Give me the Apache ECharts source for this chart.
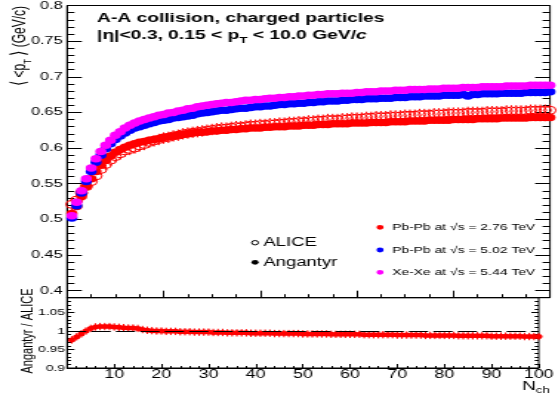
<!DOCTYPE html>
<html>
<head>
<meta charset="utf-8">
<script src="https://cdn.jsdelivr.net/npm/echarts@6.0.0/dist/echarts.min.js"></script>
<style>
  html, body { margin: 0; padding: 0; background: #fff; overflow: hidden; }
  /* the canvas is drawn narrow and widened horizontally */
  #chart { width: 377px; height: 398px; transform: scaleX(1.48); transform-origin: 0 0; }
</style>
</head>
<body>
<div id="chart"></div>
<script>
// ---- data: mean transverse momentum vs. charged multiplicity ----
const nch = [1,2,3,4,5,6,7,8,9,10,11,12,13,14,15,16,17,18,19,20,
  21,22,23,24,25,26,27,28,29,30,31,32,33,34,35,36,37,38,39,40,
  41,42,43,44,45,46,47,48,49,50,51,52,53,54,55,56,57,58,59,60,
  61,62,63,64,65,66,67,68,69,70,71,72,73,74,75,76,77,78,79,80,
  81,82,83,84,85,86,87,88,89,90,91,92,93,94,95,96,97,98,99,100];

// ALICE, Pb-Pb 2.76 TeV (open markers)
const alicePbPb276 = [
  .521,.527,.537,.546,.553,.561,.570,.577,.583,.588,
  .592,.596,.598,.600,.603,.605,.608,.610,.612,.614,
  .615,.617,.618,.620,.621,.622,.623,.624,.625,.626,
  .627,.628,.628,.629,.630,.630,.631,.632,.632,.633,
  .633,.634,.634,.635,.635,.636,.636,.637,.637,.638,
  .638,.639,.639,.640,.640,.640,.641,.641,.642,.642,
  .642,.643,.643,.644,.644,.644,.645,.645,.645,.646,
  .646,.646,.647,.647,.647,.648,.648,.648,.649,.649,
  .649,.649,.650,.650,.650,.650,.651,.651,.651,.651,
  .652,.652,.652,.652,.652,.653,.653,.653,.653,.653];
const aliceErr = 0.008;

// Angantyr, Pb-Pb 2.76 TeV
const angPbPb276 = [
  .508,.518,.532,.546,.557,.567,.576,.583,.589,.594,
  .598,.601,.604,.606,.608,.609,.611,.612,.613,.615,
  .616,.617,.618,.619,.620,.621,.622,.622,.623,.624,
  .624,.625,.625,.626,.626,.627,.627,.628,.628,.628,
  .629,.629,.630,.630,.630,.631,.631,.631,.632,.632,
  .632,.633,.633,.633,.634,.634,.634,.634,.635,.635,
  .635,.635,.636,.636,.636,.636,.637,.637,.637,.637,
  .638,.638,.638,.638,.639,.639,.639,.639,.639,.640,
  .640,.640,.640,.640,.641,.641,.641,.641,.641,.642,
  .642,.642,.642,.642,.642,.643,.643,.643,.643,.643];

// Angantyr, Pb-Pb 5.02 TeV
const angPbPb502 = [
  .502,.519,.537,.553,.567,.580,.590,.599,.606,.612,
  .617,.621,.625,.628,.630,.632,.634,.636,.638,.639,
  .640,.642,.643,.644,.645,.646,.648,.649,.650,.651,
  .652,.653,.653,.654,.655,.656,.656,.657,.658,.658,
  .659,.659,.660,.661,.661,.662,.662,.663,.663,.664,
  .664,.665,.665,.666,.666,.666,.667,.667,.668,.668,
  .668,.669,.669,.669,.670,.670,.670,.671,.671,.671,
  .672,.672,.672,.673,.673,.673,.673,.674,.674,.674,
  .674,.675,.673,.675,.675,.676,.676,.676,.676,.677,
  .677,.677,.677,.677,.678,.678,.678,.678,.678,.679];

// Angantyr, Xe-Xe 5.44 TeV
const angXeXe544 = [
  .505,.524,.540,.557,.572,.585,.595,.604,.611,.618,
  .623,.628,.632,.635,.638,.640,.642,.644,.646,.647,
  .649,.650,.652,.653,.655,.656,.658,.659,.660,.661,
  .662,.663,.664,.664,.665,.666,.667,.667,.668,.668,
  .669,.670,.670,.671,.671,.672,.672,.673,.673,.674,
  .674,.675,.675,.676,.676,.676,.677,.677,.677,.678,
  .678,.679,.679,.679,.680,.680,.680,.681,.681,.681,
  .682,.682,.682,.682,.683,.683,.683,.684,.684,.684,
  .684,.685,.685,.685,.685,.686,.686,.686,.686,.686,
  .687,.687,.687,.687,.687,.688,.688,.688,.688,.688];

// Angantyr / ALICE, Pb-Pb 2.76 TeV
const ratioPbPb276 = [
  .976,.984,.992,1.000,1.007,1.011,1.012,1.012,1.012,1.011,
  1.010,1.009,1.008,1.008,1.007,1.004,1.002,1.001,1.000,1.000,
  .999,.999,.999,.998,.998,.998,.997,.997,.997,.997,
  .996,.996,.996,.995,.995,.995,.995,.995,.994,.994,
  .994,.994,.994,.993,.993,.993,.993,.993,.993,.992,
  .992,.992,.992,.992,.992,.991,.991,.991,.991,.991,
  .991,.991,.990,.990,.990,.990,.990,.990,.990,.989,
  .989,.989,.989,.989,.989,.988,.988,.988,.988,.988,
  .988,.988,.987,.987,.987,.987,.987,.987,.987,.986,
  .986,.986,.986,.986,.986,.986,.985,.985,.985,.985];
const ratioErr = 0.01;

// axis ticks and labels
const yTicksTop = [0.4, 0.45, 0.5, 0.55, 0.6, 0.65, 0.7, 0.75, 0.8];
const yTicksRatio = [0.9, 0.95, 1, 1.05];
const legendLabels = ['Pb-Pb at \u221As = 2.76 TeV', 'Pb-Pb at \u221As = 5.02 TeV', 'Xe-Xe at \u221As = 5.44 TeV'];
const legendColors = ['#ff0000', '#0000ff', '#ff00ff'];

// ---- helpers ----
const FONT = '"Liberation Sans", Arial, Helvetica, sans-serif';
const fmt = v => String(parseFloat(Number(v).toFixed(3)));

function minorValues(lo, hi) {          // hundredths between lo and hi (in 1/100 units)
  const out = [];
  for (let k = lo; k <= hi; k++) if (k % 5 !== 0) out.push(k / 100);
  return out;
}

function yAxisSet(grid, min, max, majors, minors, majLen, minLen, label) {
  const base = {
    type: 'value', gridIndex: grid, min: min, max: max,
    splitLine: { show: false }, axisLine: { show: false },
    axisLabel: { show: false }, axisTick: { show: false }
  };
  const tick = (vals, len) => ({ show: true, inside: true, length: len, customValues: vals,
                                 lineStyle: { color: '#000', width: 1 } });
  return [
    Object.assign({}, base, {
      position: 'left',
      axisLine: { show: true, onZero: false, lineStyle: { color: '#000', width: 1 } },
      axisTick: tick(majors, majLen),
      axisLabel: Object.assign({ show: true, customValues: majors, color: '#000',
                                 fontFamily: FONT, formatter: fmt }, label)
    }),
    Object.assign({}, base, { position: 'left', axisTick: tick(minors, minLen) }),
    Object.assign({}, base, { position: 'right', axisTick: tick(majors, majLen) }),
    Object.assign({}, base, { position: 'right', axisTick: tick(minors, minLen) })
  ];
}

function pairs(vals) { return nch.map((n, i) => [n, vals[i]]); }

// vertical error bars drawn outside the marker
function errorBars(color, err, gap, halfWidth) {
  return function (params, api) {
    const x = api.value(0), y = api.value(1);
    const p = api.coord([x, y]);
    const pt = api.coord([x, y + err]);
    const pb = api.coord([x, y - err]);
    const style = { stroke: color, lineWidth: 1 };
    const children = [
      { type: 'line', shape: { x1: p[0], y1: pt[1], x2: p[0], y2: p[1] - gap }, style: style },
      { type: 'line', shape: { x1: p[0], y1: p[1] + gap, x2: p[0], y2: pb[1] }, style: style }
    ];
    if (halfWidth) {
      const pl = api.coord([x - halfWidth, y]);
      const pr = api.coord([x + halfWidth, y]);
      children.push({ type: 'line', shape: { x1: pl[0], y1: p[1], x2: pr[0], y2: p[1] }, style: style });
    }
    return { type: 'group', children: children };
  };
}

// ---- layout (canvas units) ----
const LEFT = 45.3, RIGHT = 5.4;
const grids = [
  { left: LEFT, right: RIGHT, top: 5, height: 292.7, show: true, borderColor: '#000', borderWidth: 1 },
  { left: LEFT, right: RIGHT, top: 297.7, height: 70.3, show: true, borderColor: '#000', borderWidth: 1 }
];

const xAxes = [
  { type: 'value', gridIndex: 0, min: 0, max: 100, interval: 20,
    axisLine: { show: true, onZero: false, lineStyle: { color: '#000' } },
    axisTick: { show: true, inside: true, length: 7, lineStyle: { color: '#000' } },
    minorTick: { show: true, splitNumber: 4, length: 3.5, lineStyle: { color: '#000' } },
    axisLabel: { show: false }, splitLine: { show: false } },
  { type: 'value', gridIndex: 1, min: 0, max: 100, interval: 10,
    axisLine: { show: true, onZero: false, lineStyle: { color: '#000' } },
    axisTick: { show: true, inside: true, length: 4, lineStyle: { color: '#000' } },
    minorTick: { show: true, splitNumber: 5, length: 2, lineStyle: { color: '#000' } },
    axisLabel: { show: true, showMinLabel: false, fontSize: 12, color: '#000', fontFamily: FONT, margin: 1 },
    splitLine: { show: false } }
];

const yAxes = [].concat(
  yAxisSet(0, 0.39, 0.8, yTicksTop, minorValues(39, 80), 10, 5, { fontSize: 11, margin: 3 }),
  yAxisSet(1, 0.9, 1.09, yTicksRatio, minorValues(90, 109), 5, 2.7, { fontSize: 9.3, margin: 1.5 })
);

const legendGraphics = [];
legendLabels.forEach((t, i) => {
  const y = [227.3, 250, 272.3][i];
  legendGraphics.push({ type: 'circle', shape: { cx: 256.8, cy: y, r: 2.4 }, style: { fill: legendColors[i] } });
  legendGraphics.push({ type: 'text', x: 265, y: y,
    style: { text: t, fontSize: 9.4, fontFamily: FONT, fill: '#000', verticalAlign: 'middle' } });
});

const option = {
  animation: false,
  backgroundColor: '#fff',
  grid: grids,
  xAxis: xAxes,
  yAxis: yAxes,
  series: [
    { type: 'custom', xAxisIndex: 0, yAxisIndex: 0, clip: true, z: 2,
      renderItem: errorBars('#ff0000', aliceErr, 4, 0),
      encode: { x: 0, y: 1 }, data: pairs(alicePbPb276) },
    { name: 'ALICE Pb-Pb 2.76', type: 'scatter', xAxisIndex: 0, yAxisIndex: 0, z: 2,
      symbol: 'circle', symbolSize: 8,
      itemStyle: { color: 'rgba(255,255,255,0)', borderColor: '#ff0000', borderWidth: 1, opacity: 1 },
      data: pairs(alicePbPb276) },
    { name: 'Angantyr Pb-Pb 2.76', type: 'scatter', xAxisIndex: 0, yAxisIndex: 0, z: 3,
      symbol: 'circle', symbolSize: 7.5, itemStyle: { color: '#ff0000', opacity: 1 },
      data: pairs(angPbPb276) },
    { name: 'Angantyr Pb-Pb 5.02', type: 'scatter', xAxisIndex: 0, yAxisIndex: 0, z: 4,
      symbol: 'circle', symbolSize: 7.5, itemStyle: { color: '#0000ff', opacity: 1 },
      data: pairs(angPbPb502) },
    { name: 'Angantyr Xe-Xe 5.44', type: 'scatter', xAxisIndex: 0, yAxisIndex: 0, z: 5,
      symbol: 'circle', symbolSize: 7.5, itemStyle: { color: '#ff00ff', opacity: 1 },
      data: pairs(angXeXe544) },
    { type: 'custom', xAxisIndex: 1, yAxisIndex: 4, clip: true, z: 3,
      renderItem: errorBars('#ff0000', ratioErr, 0, 0.5),
      encode: { x: 0, y: 1 }, data: pairs(ratioPbPb276) },
    { name: 'Angantyr / ALICE', type: 'scatter', xAxisIndex: 1, yAxisIndex: 4, z: 3,
      symbol: 'circle', symbolSize: 5, itemStyle: { color: '#ff0000', opacity: 1 },
      data: pairs(ratioPbPb276),
      markLine: { silent: true, symbol: 'none', label: { show: false }, z: 4,
        lineStyle: { color: '#000', width: 1, type: [13, 3.5] },
        data: [{ yAxis: 1 }] } }
  ],
  graphic: [
    { type: 'text', x: 65.5, y: 18.5,
      style: { text: 'A-A collision, charged particles', fontSize: 13, fontWeight: 'bold',
               fontFamily: FONT, fill: '#000', verticalAlign: 'middle' } },
    { type: 'text', x: 65.5, y: 35.5,
      style: { text: '{b||\u03B7|<0.3, 0.15 < p}{s|T}{b| < 10.0 GeV/}{i|c}', verticalAlign: 'middle',
               rich: {
                 b: { fontSize: 13, fontWeight: 'bold', fontFamily: FONT, fill: '#000', lineHeight: 20, verticalAlign: 'middle' },
                 s: { fontSize: 9, fontWeight: 'bold', fontFamily: FONT, fill: '#000', lineHeight: 20, verticalAlign: 'bottom' },
                 i: { fontSize: 13, fontWeight: 'bold', fontStyle: 'italic', fontFamily: FONT, fill: '#000', lineHeight: 20, verticalAlign: 'middle' }
               } } },
    { type: 'text', x: 13.5, y: 6, rotation: Math.PI / 2,
      style: { text: '{k|\u27E8} {a|<p}{s|T}{a| }{k|\u27E9}{a| (GeV/c)}', align: 'right', verticalAlign: 'middle',
               rich: {
                 k: { fontSize: 14, fontFamily: FONT, fill: '#000', lineHeight: 18, verticalAlign: 'middle' },
                 a: { fontSize: 12, fontFamily: FONT, fill: '#000', lineHeight: 18, verticalAlign: 'middle' },
                 s: { fontSize: 8, fontFamily: FONT, fill: '#000', lineHeight: 18, verticalAlign: 'bottom' }
               } } },
    { type: 'text', x: 18.5, y: 331, rotation: Math.PI / 2,
      style: { text: 'Angantyr / ALICE', fontSize: 11, fontFamily: FONT, fill: '#000',
               align: 'center', verticalAlign: 'middle' } },
    { type: 'text', x: 371.6, y: 386,
      style: { text: '{n|N}{s|ch}', align: 'right', verticalAlign: 'middle',
               rich: {
                 n: { fontSize: 13, fontFamily: FONT, fill: '#000', lineHeight: 18, verticalAlign: 'middle' },
                 s: { fontSize: 9, fontFamily: FONT, fill: '#000', lineHeight: 18, verticalAlign: 'bottom' }
               } } },
    { type: 'circle', shape: { cx: 172.3, cy: 242.7, r: 2.2 }, style: { fill: 'none', stroke: '#000', lineWidth: 1 } },
    { type: 'text', x: 177.9, y: 243,
      style: { text: 'ALICE', fontSize: 12.5, fontFamily: FONT, fill: '#000', verticalAlign: 'middle' } },
    { type: 'circle', shape: { cx: 172.3, cy: 262.3, r: 2.4 }, style: { fill: '#000' } },
    { type: 'text', x: 177.9, y: 262.3,
      style: { text: 'Angantyr', fontSize: 12.5, fontFamily: FONT, fill: '#000', verticalAlign: 'middle' } }
  ].concat(legendGraphics)
};

const chart = echarts.init(document.getElementById('chart'), null, { renderer: 'canvas' });
chart.setOption(option);
</script>
</body>
</html>
